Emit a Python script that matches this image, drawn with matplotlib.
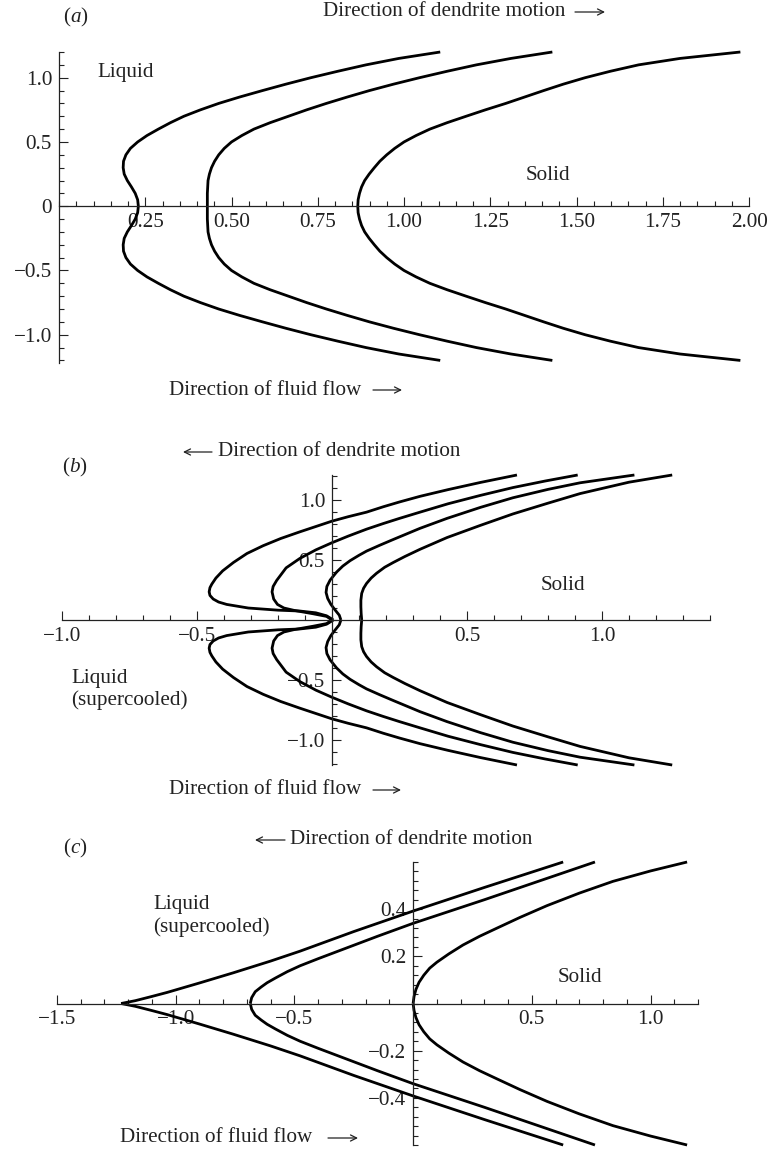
import matplotlib
matplotlib.use("Agg")
import matplotlib.pyplot as plt
from matplotlib.ticker import MultipleLocator, FixedLocator, FixedFormatter

plt.rcParams['font.family'] = ['Liberation Serif', 'DejaVu Serif']
plt.rcParams['mathtext.fontset'] = 'custom'
plt.rcParams['mathtext.rm'] = 'Liberation Serif'
plt.rcParams['mathtext.it'] = 'Liberation Serif:italic'

W, H = 773, 1152
FS = 15.2
INK = '#222222'

# ---- panel (a): upper halves, x as a function of y (curves are mirrored about y=0)
a_y = [0.0, 0.05, 0.10, 0.15, 0.20, 0.25, 0.30, 0.35, 0.40, 0.45, 0.50, 0.55,
       0.60, 0.65, 0.70, 0.75, 0.80, 0.85, 0.90, 0.95, 1.00, 1.05, 1.10, 1.15, 1.20]
a_x1 = [0.230, 0.228, 0.221, 0.210, 0.198, 0.189, 0.186, 0.187, 0.194, 0.207, 0.228, 0.255,
        0.288, 0.323, 0.362, 0.410, 0.463, 0.524, 0.590, 0.658, 0.730, 0.808, 0.890, 0.985, 1.105]
a_x2 = [0.430, 0.430, 0.430, 0.431, 0.432, 0.436, 0.442, 0.451, 0.463, 0.479, 0.500, 0.530,
        0.565, 0.612, 0.665, 0.718, 0.775, 0.836, 0.900, 0.970, 1.045, 1.125, 1.210, 1.310, 1.430]
a_x3 = [0.866, 0.867, 0.871, 0.877, 0.886, 0.899, 0.914, 0.930, 0.950, 0.973, 1.000, 1.035,
        1.075, 1.125, 1.180, 1.236, 1.295, 1.350, 1.405, 1.462, 1.525, 1.598, 1.680, 1.800, 1.975]

# ---- panel (b): upper halves as (x, y) point lists
b1_x = [0.005, -0.02, -0.06, -0.12, -0.20, -0.31, -0.39, -0.42, -0.44, -0.452, -0.455,
        -0.452, -0.445, -0.43, -0.405, -0.365, -0.315, -0.255, -0.19, -0.12, -0.06, 0.0,
        0.06, 0.128, 0.19, 0.25, 0.326, 0.43, 0.55, 0.685]
b1_y = [0.0, 0.035, 0.06, 0.075, 0.082, 0.10, 0.13, 0.15, 0.175, 0.205, 0.235,
        0.27, 0.30, 0.35, 0.41, 0.48, 0.555, 0.62, 0.68, 0.735, 0.78, 0.825,
        0.862, 0.90, 0.945, 0.985, 1.032, 1.088, 1.148, 1.21]
b2_x = [0.0, -0.02, -0.07, -0.14, -0.178, -0.202, -0.216, -0.222, -0.218, -0.205, -0.17,
        -0.119, -0.06, 0.0, 0.06, 0.128, 0.19, 0.25, 0.326, 0.43, 0.55, 0.67, 0.79, 0.91]
b2_y = [0.0, 0.03, 0.052, 0.08, 0.10, 0.13, 0.175, 0.235, 0.28, 0.33, 0.435,
        0.514, 0.585, 0.645, 0.70, 0.758, 0.805, 0.848, 0.90, 0.97, 1.04, 1.105, 1.16, 1.21]
b3_x = [0.033, 0.027, 0.011, -0.004, -0.016, -0.022, -0.019, -0.007, 0.017, 0.04, 0.067,
        0.10, 0.128, 0.178, 0.227, 0.326, 0.426, 0.55, 0.67, 0.80, 0.919, 1.12]
b3_y = [0.0, 0.04, 0.085, 0.13, 0.18, 0.23, 0.28, 0.333, 0.40, 0.45, 0.495,
        0.54, 0.575, 0.625, 0.672, 0.765, 0.848, 0.94, 1.02, 1.09, 1.145, 1.21]
b4_x = [0.11, 0.108, 0.107, 0.107, 0.11, 0.117, 0.128, 0.145, 0.165, 0.195, 0.227,
        0.27, 0.326, 0.426, 0.55, 0.67, 0.80, 0.919, 1.10, 1.26]
b4_y = [0.0, 0.055, 0.11, 0.165, 0.222, 0.265, 0.305, 0.35, 0.39, 0.44, 0.48,
        0.53, 0.59, 0.688, 0.79, 0.885, 0.975, 1.055, 1.15, 1.21]

# ---- panel (c): upper halves as (x, y) point lists
c1_x = [-1.23, -1.17, -1.10, -1.036, -0.90, -0.758, -0.60, -0.476, -0.25, 0.0, 0.30, 0.632]
c1_y = [0.0, 0.012, 0.03, 0.047, 0.087, 0.13, 0.18, 0.222, 0.305, 0.392, 0.492, 0.60]
c2_x = [-0.686, -0.68, -0.665, -0.64, -0.615, -0.58, -0.53, -0.476, -0.40, -0.30, -0.15,
        0.0, 0.30, 0.766]
c2_y = [0.0, 0.025, 0.05, 0.07, 0.088, 0.108, 0.135, 0.16, 0.19, 0.228, 0.285,
        0.34, 0.44, 0.60]
c3_x = [0.0, 0.004, 0.012, 0.025, 0.045, 0.07, 0.10, 0.15, 0.21, 0.28, 0.354, 0.45,
        0.564, 0.70, 0.842, 1.0, 1.154]
c3_y = [0.0, 0.03, 0.06, 0.09, 0.12, 0.15, 0.175, 0.21, 0.248, 0.285, 0.32, 0.365,
        0.415, 0.468, 0.518, 0.562, 0.60]

fig = plt.figure(figsize=(W / 100, H / 100), dpi=100)


def make_axes(xlim, ylim, px_x, px_y):
    # px_x = (left px, right px), px_y = (top px, bottom px)
    ax = fig.add_axes([px_x[0] / W, 1 - px_y[1] / H,
                       (px_x[1] - px_x[0]) / W, (px_y[1] - px_y[0]) / H])
    ax.set_xlim(*xlim)
    ax.set_ylim(*ylim)
    ax.patch.set_visible(False)
    for s in ('top', 'right'):
        ax.spines[s].set_visible(False)
    ax.spines['left'].set_position(('data', 0))
    ax.spines['bottom'].set_position(('data', 0))
    for s in ('left', 'bottom'):
        ax.spines[s].set_linewidth(0.9)
        ax.spines[s].set_color(INK)
    ax.tick_params(which='both', direction='in', color=INK, width=0.8,
                   labelsize=FS, labelcolor=INK)
    ax.tick_params(which='major', length=6.5, pad=5)
    ax.tick_params(which='minor', length=3.5)
    return ax


def fmt(v, nd):
    s = f"{abs(v):.{nd}f}"
    return ("\u2212" + s) if v < 0 else s


def draw(ax, x, y):
    for sgn in (1, -1):
        ax.plot(x, [sgn * v for v in y], color='black', lw=2.0,
                solid_capstyle='butt', solid_joinstyle='round', clip_on=False)


def put(x, y, s, **kw):
    kw.setdefault('fontsize', FS)
    kw.setdefault('color', INK)
    kw.setdefault('va', 'center')
    fig.text(x / W, 1 - y / H, s, **kw)


def arrow(x1, x2, y):
    fig.add_artist(matplotlib.patches.FancyArrowPatch(
        (x1, H - y), (x2, H - y), transform=None, arrowstyle='->',
        mutation_scale=11, lw=0.9, color=INK, shrinkA=0, shrinkB=0))


# panel (a)
ax = make_axes((0, 2.0), (-1.22, 1.2), (59, 749), (52, 363))
for xs in (a_x1, a_x2, a_x3):
    draw(ax, xs, a_y)
xt = [0.25, 0.5, 0.75, 1.0, 1.25, 1.5, 1.75, 2.0]
ax.xaxis.set_major_locator(FixedLocator(xt))
ax.xaxis.set_major_formatter(FixedFormatter([fmt(v, 2) for v in xt]))
ax.xaxis.set_minor_locator(MultipleLocator(0.05))
yt = [-1.0, -0.5, 0.0, 0.5, 1.0]
ax.yaxis.set_major_locator(FixedLocator(yt))
ax.yaxis.set_major_formatter(FixedFormatter(['\u22121.0', '\u22120.5', '0', '0.5', '1.0']))
ax.yaxis.set_minor_locator(MultipleLocator(0.1))

put(76, 17, '($a$)', ha='center')
put(323, 12, 'Direction of dendrite motion', ha='left')
arrow(575, 605, 12)
put(97, 73, 'Liquid', ha='left')
put(548, 175, 'Solid', ha='center')
put(169, 390, 'Direction of fluid flow', ha='left')
arrow(373, 402, 390)

# panel (b)
ax = make_axes((-1.0, 1.4), (-1.21, 1.21), (62, 710), (475, 765))
for xs, ys in ((b1_x, b1_y), (b2_x, b2_y), (b3_x, b3_y), (b4_x, b4_y)):
    draw(ax, xs, ys)
xt = [-1.0, -0.5, 0.5, 1.0]
ax.xaxis.set_major_locator(FixedLocator(xt))
ax.xaxis.set_major_formatter(FixedFormatter([fmt(v, 1) for v in xt]))
ax.xaxis.set_minor_locator(MultipleLocator(0.1))
yt = [-1.0, -0.5, 0.5, 1.0]
ax.yaxis.set_major_locator(FixedLocator(yt))
ax.yaxis.set_major_formatter(FixedFormatter([fmt(v, 1) for v in yt]))
ax.yaxis.set_minor_locator(MultipleLocator(0.1))

put(75, 467, '($b$)', ha='center')
arrow(212, 183, 452)
put(218, 452, 'Direction of dendrite motion', ha='left')
put(563, 585, 'Solid', ha='center')
put(71, 678, 'Liquid', ha='left')
put(71, 700, '(supercooled)', ha='left')
put(169, 790, 'Direction of fluid flow', ha='left')
arrow(373, 401, 790)

# panel (c)
ax = make_axes((-1.5, 1.2), (-0.6, 0.6), (57, 698), (862, 1145))
for xs, ys in ((c1_x, c1_y), (c2_x, c2_y), (c3_x, c3_y)):
    draw(ax, xs, ys)
xt = [-1.5, -1.0, -0.5, 0.5, 1.0]
ax.xaxis.set_major_locator(FixedLocator(xt))
ax.xaxis.set_major_formatter(FixedFormatter([fmt(v, 1) for v in xt]))
ax.xaxis.set_minor_locator(MultipleLocator(0.1))
yt = [-0.4, -0.2, 0.2, 0.4]
ax.yaxis.set_major_locator(FixedLocator(yt))
ax.yaxis.set_major_formatter(FixedFormatter([fmt(v, 1) for v in yt]))
ax.yaxis.set_minor_locator(MultipleLocator(0.04))

put(75, 848, '($c$)', ha='center')
arrow(285, 255, 840)
put(290, 840, 'Direction of dendrite motion', ha='left')
put(153, 905, 'Liquid', ha='left')
put(153, 927, '(supercooled)', ha='left')
put(580, 978, 'Solid', ha='center')
put(120, 1138, 'Direction of fluid flow', ha='left')
arrow(328, 358, 1138)

fig.savefig('out.png', dpi=100)
